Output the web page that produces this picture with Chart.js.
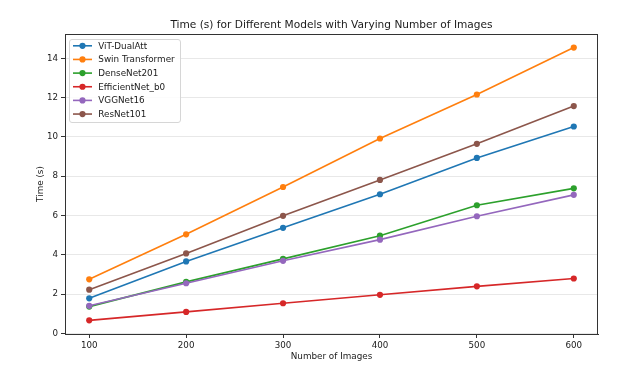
<!DOCTYPE html>
<html>
<head>
<meta charset="utf-8">
<script src="https://cdn.jsdelivr.net/npm/chart.js@4.4.0/dist/chart.umd.min.js"></script>
<style>
  html, body { margin: 0; padding: 0; background: #ffffff; }
  #wrap { width: 629px; height: 378px; position: relative; }
</style>
</head>
<body>
<div id="wrap"><canvas id="c"></canvas></div>
<script>
// ---- data ----
const chartTitle = "Time (s) for Different Models with Varying Number of Images";
const xAxisTitle = "Number of Images";
const yAxisTitle = "Time (s)";
const numImages = [100, 200, 300, 400, 500, 600];
const modelNames = ["ViT-DualAtt", "Swin Transformer", "DenseNet201", "EfficientNet_b0", "VGGNet16", "ResNet101"];
const vitDualAtt = [1.78, 3.66, 5.37, 7.08, 8.93, 10.53];
const swinTransformer = [2.75, 5.04, 7.45, 9.92, 12.16, 14.55];
const denseNet201 = [1.36, 2.62, 3.79, 4.97, 6.52, 7.38];
const efficientNetB0 = [0.66, 1.09, 1.53, 1.96, 2.39, 2.79];
const vggNet16 = [1.40, 2.55, 3.69, 4.77, 5.96, 7.05];
const resNet101 = [2.22, 4.07, 5.98, 7.81, 9.65, 11.57];
const xTickValues = [100, 200, 300, 400, 500, 600];
const yTickValues = [0, 2, 4, 6, 8, 10, 12, 14];

const seriesValues = [vitDualAtt, swinTransformer, denseNet201, efficientNetB0, vggNet16, resNet101];
const colors = ["#1f77b4", "#ff7f0e", "#2ca02c", "#d62728", "#9467bd", "#8c564b"];

const FONT = "'DejaVu Sans', sans-serif";
const TXT = "#1a1a1a";
const SPINE = "#333333";

const datasets = modelNames.map((name, i) => ({
  label: name,
  data: numImages.map((x, j) => ({ x: x, y: seriesValues[i][j] })),
  borderColor: colors[i],
  backgroundColor: colors[i],
  pointBackgroundColor: colors[i],
  pointBorderColor: colors[i],
  pointBorderWidth: 0,
  pointRadius: 3.1,
  borderWidth: 1.6,
  tension: 0,
  order: modelNames.length - i
}));

const decorPlugin = {
  id: 'decor',
  afterDraw(chart) {
    const ctx = chart.ctx;
    const a = chart.chartArea;
    ctx.save();
    // spines (full box)
    ctx.strokeStyle = SPINE;
    ctx.lineWidth = 1;
    ctx.strokeRect(Math.round(a.left) + 0.5, Math.round(a.top) + 0.5,
                   Math.round(a.right - a.left) - 1, Math.round(a.bottom - a.top));
    // title
    ctx.fillStyle = TXT;
    ctx.font = "10.6px " + FONT;
    ctx.textAlign = "center";
    ctx.textBaseline = "alphabetic";
    ctx.fillText(chartTitle, (a.left + a.right) / 2, 28);
    // x axis title
    ctx.font = "8.8px " + FONT;
    ctx.fillText(xAxisTitle, (a.left + a.right) / 2, 359);
    // y axis title
    ctx.save();
    ctx.translate(42.5, (a.top + a.bottom) / 2);
    ctx.rotate(-Math.PI / 2);
    ctx.textBaseline = "alphabetic";
    ctx.fillText(yAxisTitle, 0, 0);
    ctx.restore();
    // legend
    const lx = 69.5, ly = 39.5, lw = 111, lh = 83, r = 2.5;
    ctx.beginPath();
    ctx.moveTo(lx + r, ly);
    ctx.lineTo(lx + lw - r, ly);
    ctx.quadraticCurveTo(lx + lw, ly, lx + lw, ly + r);
    ctx.lineTo(lx + lw, ly + lh - r);
    ctx.quadraticCurveTo(lx + lw, ly + lh, lx + lw - r, ly + lh);
    ctx.lineTo(lx + r, ly + lh);
    ctx.quadraticCurveTo(lx, ly + lh, lx, ly + lh - r);
    ctx.lineTo(lx, ly + r);
    ctx.quadraticCurveTo(lx, ly, lx + r, ly);
    ctx.closePath();
    ctx.fillStyle = "rgba(255,255,255,0.85)";
    ctx.fill();
    ctx.strokeStyle = "#d6d6d6";
    ctx.lineWidth = 1;
    ctx.stroke();
    ctx.font = "8.8px " + FONT;
    ctx.textAlign = "left";
    ctx.textBaseline = "middle";
    chart.data.datasets.forEach((ds, i) => {
      const y = 45.8 + i * 13.65;
      ctx.strokeStyle = ds.borderColor;
      ctx.lineWidth = 1.6;
      ctx.beginPath();
      ctx.moveTo(73, y);
      ctx.lineTo(92, y);
      ctx.stroke();
      ctx.fillStyle = ds.borderColor;
      ctx.beginPath();
      ctx.arc(82.5, y, 3.1, 0, Math.PI * 2);
      ctx.fill();
      ctx.fillStyle = TXT;
      ctx.fillText(ds.label, 98.3, y + 0.5);
    });
    ctx.restore();
  }
};

new Chart(document.getElementById('c'), {
  type: 'line',
  data: { datasets: datasets },
  plugins: [decorPlugin],
  options: {
    responsive: true,
    maintainAspectRatio: false,
    animation: false,
    devicePixelRatio: 1,
    layout: { padding: { top: 34, right: 31, left: 0, bottom: 0 } },
    plugins: { legend: { display: false }, title: { display: false }, tooltip: { enabled: false } },
    scales: {
      x: {
        type: 'linear',
        min: 75,
        max: 625,
        afterFit(scale) { scale.height = 44; },
        afterBuildTicks(scale) { scale.ticks = xTickValues.map(v => ({ value: v })); },
        grid: { drawOnChartArea: false, tickLength: 4, tickColor: SPINE, tickWidth: 1 },
        border: { display: true, color: SPINE, width: 1 },
        ticks: { color: TXT, font: { family: FONT, size: 8.7 }, padding: 2.5, maxRotation: 0, autoSkip: false }
      },
      y: {
        type: 'linear',
        min: -0.035,
        max: 15.24,
        afterFit(scale) { scale.width = 65; },
        afterBuildTicks(scale) { scale.ticks = yTickValues.map(v => ({ value: v })); },
        grid: { drawOnChartArea: true, color: "#e8e8e8", lineWidth: 1, tickLength: 4, tickColor: SPINE, tickWidth: 1 },
        border: { display: true, color: SPINE, width: 1 },
        ticks: { color: TXT, font: { family: FONT, size: 8.7 }, padding: 3, autoSkip: false }
      }
    }
  }
});
</script>
</body>
</html>
